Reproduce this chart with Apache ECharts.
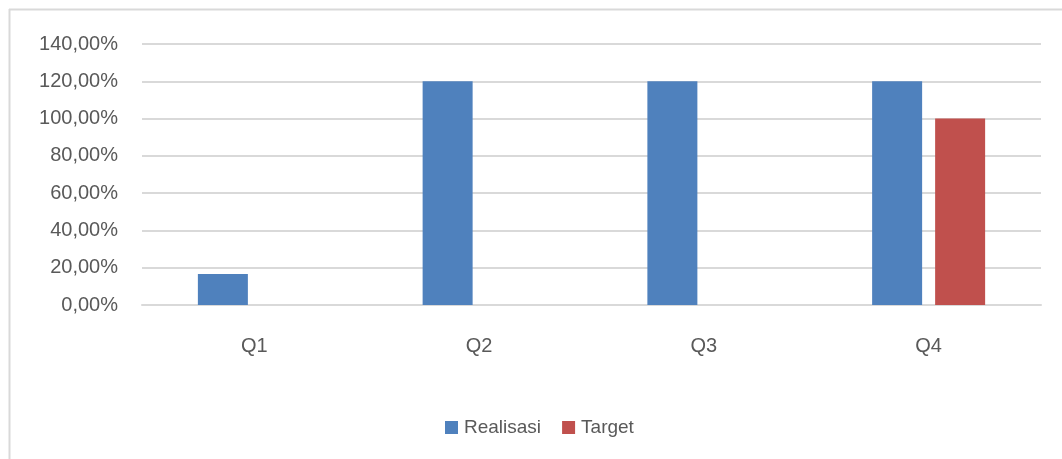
<!DOCTYPE html>
<html>
<head>
<meta charset="utf-8">
<script src="https://cdn.jsdelivr.net/npm/echarts@6/dist/echarts.min.js"></script>
<style>
html,body{margin:0;padding:0;background:#fff;}
#c{width:1062px;height:459px;}
</style>
</head>
<body>
<div id="c"></div>
<script>
const categories = ['Q1', 'Q2', 'Q3', 'Q4'];
const realisasi = [16.67, 120, 120, 120];
const target = [null, null, null, 100];
const yTicks = [0, 20, 40, 60, 80, 100, 120, 140];

const chart = echarts.init(document.getElementById('c'));
const font = 'Liberation Sans';
const txt = '#595959';
chart.setOption({
  animation: false,
  textStyle: { fontFamily: font },
  graphic: [
    { type: 'line', shape: { x1: 9, y1: 9.5, x2: 1062, y2: 9.5 }, style: { stroke: '#d9d9d9', lineWidth: 2 } },
    { type: 'line', shape: { x1: 9.5, y1: 9, x2: 9.5, y2: 459 }, style: { stroke: '#d9d9d9', lineWidth: 2 } }
  ],
  grid: { left: 142, right: 21, top: 44, bottom: 154, containLabel: false },
  legend: {
    data: ['Realisasi', 'Target'],
    left: 440, top: 413,
    itemWidth: 13, itemHeight: 13, itemGap: 21,
    icon: 'rect',
    textStyle: { color: txt, fontSize: 19, fontFamily: font, padding: [0, 0, 0, 1] }
  },
  xAxis: {
    type: 'category',
    data: categories,
    axisLine: { show: true, lineStyle: { color: '#d9d9d9', width: 2 } },
    axisTick: { show: false },
    axisLabel: { color: txt, fontSize: 20, fontFamily: font, margin: 31 }
  },
  yAxis: {
    type: 'value',
    min: yTicks[0], max: yTicks[yTicks.length - 1], interval: 20,
    axisLine: { show: false },
    axisTick: { show: false },
    splitLine: { lineStyle: { color: '#d9d9d9', width: 2 } },
    axisLabel: {
      color: txt, fontSize: 20, fontFamily: font, margin: 24,
      formatter: v => v.toFixed(2).replace('.', ',') + '%'
    }
  },
  series: [
    { name: 'Realisasi', type: 'bar', data: realisasi, barWidth: 50, barGap: '26%', itemStyle: { color: '#4f81bd' } },
    { name: 'Target', type: 'bar', data: target, barWidth: 50, itemStyle: { color: '#c0504d' } }
  ]
});
</script>
</body>
</html>
